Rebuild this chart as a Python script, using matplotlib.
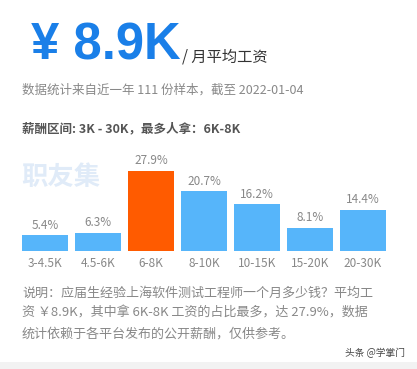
import matplotlib
matplotlib.use("Agg")
import matplotlib.pyplot as plt
from matplotlib.patches import Rectangle

plt.rcParams['font.family'] = ['Noto Sans CJK SC', 'DejaVu Sans']

categories = ["3-4.5K", "4.5-6K", "6-8K", "8-10K", "10-15K", "15-20K", "20-30K"]
values = [5.4, 6.3, 27.9, 20.7, 16.2, 8.1, 14.4]
highlight = "6-8K"

W, H = 417, 369
fig = plt.figure(figsize=(W / 100, H / 100), dpi=100)
fig.patch.set_facecolor("white")

def fx(px):
    return px / W

def fy(py):
    return 1 - py / H

# bottom gray strip
fig.patches.append(Rectangle((0, 0), 1, fy(362), transform=fig.transFigure,
                             facecolor="#f2f2f2", edgecolor="none", zorder=0))

fig.text(fx(31), fy(60), "¥ 8.9K", fontsize=36.5, fontweight="bold", color="#1a7fe8",
         family=['Liberation Sans', 'Noto Sans CJK SC'], va="baseline", ha="left")
fig.text(fx(182), fy(62), "/ 月平均工资", fontsize=11, color="#333333", va="baseline", ha="left")
fig.text(fx(22), fy(90), "数据统计来自近一年 111 份样本，截至 2022-01-04", fontsize=9,
         color="#888888", va="center", ha="left")
fig.text(fx(22), fy(129), "薪酬区间: 3K - 30K，最多人拿：6K-8K", fontsize=9,
         color="#555555", fontweight="bold", va="center", ha="left")
fig.text(fx(21), fy(177), "职友集", fontsize=19, color="#e0ebf8", fontweight="bold",
         va="center", ha="left")

ax = fig.add_axes([fx(18.5), fy(251), fx(389.5) - fx(18.5), fy(170.7) - fy(251)])
ax.set_facecolor("none")
colors = ["#ff5b00" if c == highlight else "#56b5fa" for c in categories]
x = list(range(len(categories)))
bars = ax.bar(x, values, width=0.87, color=colors)
ax.set_xlim(-0.5, len(categories) - 0.5)
ax.set_ylim(0, max(values))
for xi, v in zip(x, values):
    ax.annotate(f"{v}%", (xi, v), xytext=(0, 2.5), textcoords="offset points",
                ha="center", va="bottom", fontsize=8.5, color="#888888")
ax.set_xticks(x)
ax.set_xticklabels(categories, fontsize=8.5, color="#888888")
ax.tick_params(axis="x", length=0, pad=4)
ax.set_yticks([])
for s in ax.spines.values():
    s.set_visible(False)
for b in bars:
    b.set_clip_on(False)

desc = ["说明：应届生经验上海软件测试工程师一个月多少钱？平均工",
        "资 ￥8.9K，其中拿 6K-8K 工资的占比最多，达 27.9%，数据",
        "统计依赖于各平台发布的公开薪酬，仅供参考。"]
for i, line in enumerate(desc):
    fig.text(fx(22), fy(293 + 20.3 * i), line, fontsize=9.4, color="#888888",
             va="center", ha="left")

fig.text(fx(405), fy(353), "头条 @学掌门", fontsize=7, color="#444444", va="center", ha="right")

fig.savefig("out.png", dpi=100, facecolor="white")
